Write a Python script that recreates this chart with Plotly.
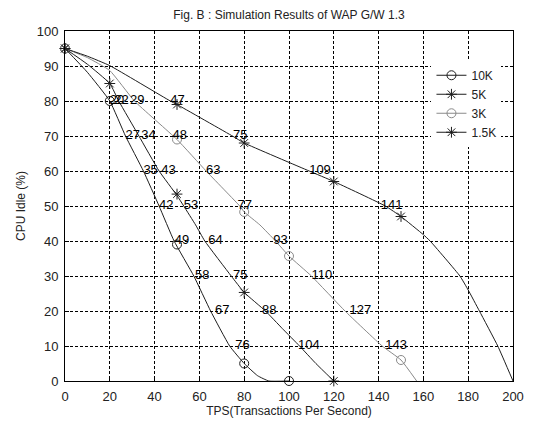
import plotly.graph_objects as go

# ---- data ----
series_names = ["10K", "5K", "3K", "1.5K"]

# curves (TPS, CPU idle %)
curve_10k_x = [0, 10, 20, 27, 35, 42, 48.7, 57.5, 65, 73.5, 80, 86, 91, 100]
curve_10k_y = [95, 88.2, 80, 70, 60, 50, 40, 30, 20, 10, 5, 1.5, 0, 0]

curve_5k_x = [0, 10, 20, 24, 33, 42, 50, 53, 58.3, 62.4, 74.2, 80, 89.5, 97, 104.7, 112, 120]
curve_5k_y = [95, 90.5, 85, 80, 70, 60, 53, 50, 44.6, 40, 30, 25.3, 20, 15, 10, 5, 0]

curve_3k_x = [0, 10, 20, 31, 50, 63, 78, 80, 87, 94, 100, 110, 125, 141.6, 150, 157]
curve_3k_y = [95, 92.4, 88.7, 80, 69, 60, 50, 48.3, 44.6, 40, 35.7, 30, 20, 10, 6, 0]

curve_15k_x = [0, 10, 20, 47, 50, 75, 80, 109, 120, 143, 150, 160, 163, 176.3, 180, 185, 193.2, 200]
curve_15k_y = [95, 92.8, 90.1, 80, 79, 69.9, 68, 60, 57, 50, 47, 41.8, 40, 30, 26, 20, 10, 0]

# measured points (markers)
mark_10k_x = [0, 20, 50, 80, 100]
mark_10k_y = [95, 80, 39, 5, 0]
mark_5k_x = [0, 20, 50, 80, 120]
mark_5k_y = [95, 85, 53.4, 25.3, 0]
mark_3k_x = [0, 50, 80, 100, 150]
mark_3k_y = [95, 69, 48.3, 35.7, 6]
mark_15k_x = [0, 50, 80, 120, 150]
mark_15k_y = [95, 79, 68, 57, 47]

# TPS labels at each CPU-idle level
label_levels = [80, 70, 60, 50, 40, 30, 20, 10]
labels_10k = [20, 27, 35, 42, 49, 58, 67, 76]
labels_5k = [22, 34, 43, 53, 64, 75, 88, 104]
labels_3k = [29, 48, 63, 77, 93, 110, 127, 143]
labels_15k = [47, 75, 109, 141]

x_ticks = [0, 20, 40, 60, 80, 100, 120, 140, 160, 180, 200]
y_ticks = [0, 10, 20, 30, 40, 50, 60, 70, 80, 90, 100]

# ---- styles ----
DARK = "#1e1e1e"
GRAY = "#8a8a8a"
FONT = "Liberation Sans, Arial, sans-serif"

styles = {
    "10K": dict(color=DARK, symbol="circle-open"),
    "5K": dict(color=DARK, symbol="asterisk-open"),
    "3K": dict(color=GRAY, symbol="circle-open"),
    "1.5K": dict(color=DARK, symbol="asterisk-open"),
}

curves = {
    "10K": (curve_10k_x, curve_10k_y),
    "5K": (curve_5k_x, curve_5k_y),
    "3K": (curve_3k_x, curve_3k_y),
    "1.5K": (curve_15k_x, curve_15k_y),
}
marks = {
    "10K": (mark_10k_x, mark_10k_y),
    "5K": (mark_5k_x, mark_5k_y),
    "3K": (mark_3k_x, mark_3k_y),
    "1.5K": (mark_15k_x, mark_15k_y),
}
labels = {
    "10K": labels_10k,
    "5K": labels_5k,
    "3K": labels_3k,
    "1.5K": labels_15k,
}

fig = go.Figure()

for name in series_names:
    st = styles[name]
    cx, cy = curves[name]
    fig.add_trace(go.Scatter(
        x=cx, y=cy, mode="lines", line=dict(color=st["color"], width=1, shape="spline", smoothing=0.4),
        showlegend=False, hoverinfo="skip", cliponaxis=False))
    mx, my = marks[name]
    fig.add_trace(go.Scatter(
        x=mx, y=my, mode="markers",
        marker=dict(symbol=st["symbol"], size=9, color=st["color"], line=dict(color=st["color"], width=1)),
        showlegend=False, cliponaxis=False))

for name in series_names:
    lab = labels[name]
    fig.add_trace(go.Scatter(
        x=lab, y=label_levels[:len(lab)], mode="text",
        text=[str(v) for v in lab], textposition="middle right",
        textfont=dict(family=FONT, size=13, color="#000000"),
        showlegend=False, hoverinfo="skip", cliponaxis=False))

# legend entries (line + marker)
for name in series_names:
    st = styles[name]
    fig.add_trace(go.Scatter(
        x=[None], y=[None], mode="lines+markers", name=name,
        line=dict(color=st["color"], width=1),
        marker=dict(symbol=st["symbol"], size=9, color=st["color"], line=dict(color=st["color"], width=1))))

axis_common = dict(
    showline=True, linecolor="#000000", linewidth=1, mirror=True,
    showgrid=True, gridcolor="#000000", gridwidth=1, griddash="3px,2px",
    zeroline=False, ticks="inside", ticklen=4, tickcolor="#000000",
    tickfont=dict(family=FONT, size=13, color="#222222"),
    ticklabelstandoff=3,
)

fig.update_layout(
    width=536, height=426,
    margin=dict(l=65, r=19, t=31, b=36),
    paper_bgcolor="white", plot_bgcolor="white",
    font=dict(family=FONT, size=12, color="#222222"),
    title=dict(text="Fig. B : Simulation Results of WAP G/W 1.3", x=0.5, xref="paper",
               y=1 - 15 / 426, yanchor="middle", yref="container",
               font=dict(family=FONT, size=12, color="#222222")),
    xaxis=dict(range=[0, 200], tickvals=x_ticks,
               title=dict(text="TPS(Transactions Per Second)", standoff=2,
                          font=dict(family=FONT, size=12, color="#222222")),
               **axis_common),
    yaxis=dict(range=[0, 100], tickvals=y_ticks,
               title=dict(text="CPU Idle (%)", standoff=8,
                          font=dict(family=FONT, size=12, color="#222222")),
               **axis_common),
    legend=dict(x=0.818, y=0.915, xanchor="left", yanchor="top",
                bgcolor="white", borderwidth=0, tracegroupgap=0,
                font=dict(family=FONT, size=12, color="#222222")),
    showlegend=True,
)

fig.write_html("out.html", config={"displayModeBar": False},
               post_script="document.body.style.margin='0';document.body.style.padding='0';")
